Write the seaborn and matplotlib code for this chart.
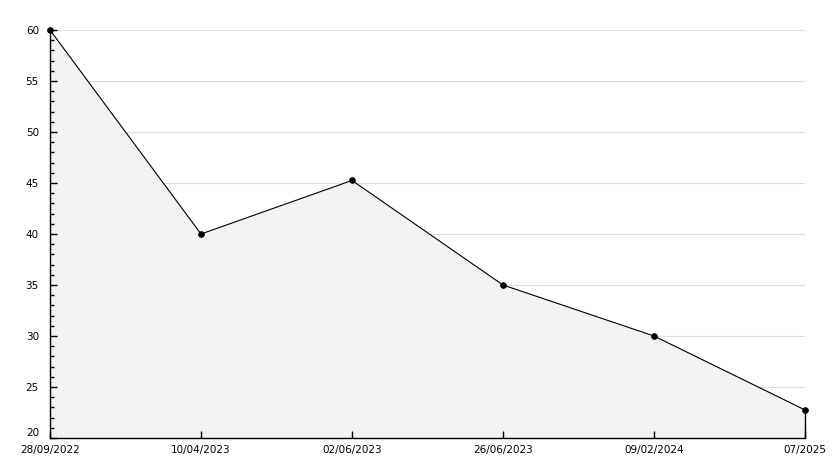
import matplotlib
matplotlib.use("Agg")
import matplotlib.pyplot as plt
import seaborn as sns
from matplotlib.ticker import MultipleLocator

# datos del gráfico
fechas = ["28/09/2022", "10/04/2023", "02/06/2023", "26/06/2023", "09/02/2024", "07/2025"]
valores = [60, 40, 45.25, 35, 30, 22.75]
posiciones = list(range(len(fechas)))
marcas_y = [20, 25, 30, 35, 40, 45, 50, 55, 60]

sns.set_style("white")
plt.rcParams["font.family"] = ["DejaVu Sans"]
plt.rcParams["text.color"] = "black"
plt.rcParams["xtick.color"] = "black"
plt.rcParams["ytick.color"] = "black"

fig = plt.figure(figsize=(8.34, 4.68), dpi=100)
ax = fig.add_axes([50 / 834, 30 / 468, 755 / 834, 408 / 468])

# líneas de rejilla bajo el área
for m in marcas_y[1:]:
    ax.axhline(m, color="#dddddd", lw=0.8, zorder=0.2)

# área rellena bajo la línea
ax.fill_between(posiciones, valores, 20, color="#f2f2f2", zorder=1)
ax.vlines(posiciones[-1], 20, valores[-1], color="black", lw=1, zorder=2, clip_on=False)
sns.lineplot(x=posiciones, y=valores, ax=ax, color="black", lw=0.8,
             marker="o", markersize=4, markeredgecolor="black", zorder=3, clip_on=False)

ax.set_xlim(0, len(fechas) - 1)
ax.set_ylim(20, 60)
ax.set_yticks(marcas_y)
ax.yaxis.set_minor_locator(MultipleLocator(1))
ax.set_xticks(posiciones)
ax.set_xticklabels(fechas)
ax.set_axisbelow(False)

for lado in ["top", "right"]:
    ax.spines[lado].set_visible(False)
for lado in ["left", "bottom"]:
    ax.spines[lado].set_color("black")
    ax.spines[lado].set_linewidth(1)

ax.tick_params(axis="y", which="major", direction="in", length=5, width=1,
               left=True, labelsize=7.5, pad=8, labelcolor="black")
ax.tick_params(axis="y", which="minor", direction="in", length=3, width=1, left=True)
ax.tick_params(axis="x", which="major", direction="in", length=5, width=1,
               bottom=True, labelsize=7.5, pad=5, labelcolor="black")

# subir un poco la etiqueta "20" para que no choque con la fecha
ax.yaxis.get_major_ticks()[0].label1.set_verticalalignment("bottom")

fig.savefig("out.png", dpi=100)
